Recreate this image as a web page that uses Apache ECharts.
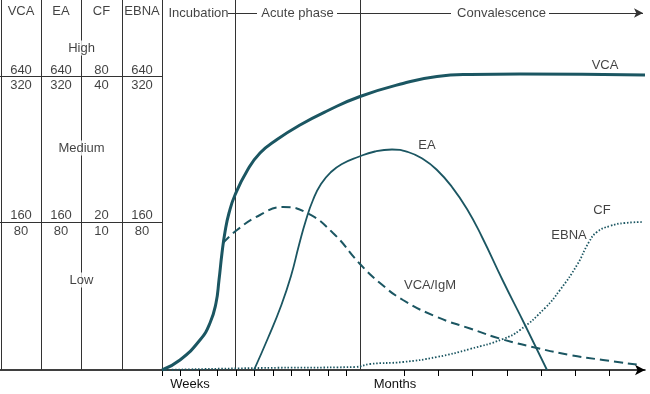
<!DOCTYPE html>
<html>
<head>
<meta charset="utf-8">
<script src="https://cdn.jsdelivr.net/npm/echarts@6/dist/echarts.min.js"></script>
<style>html,body{margin:0;padding:0;background:#fff}#c{width:650px;height:394px}</style>
</head>
<body>
<div id="c"></div>
<script>
// ---- Data (schematic units: x = time position, y = relative antibody level above baseline) ----
const vca = [[162,0],[180,10],[200,30],[210,47],[216,67],[219,90],[222,117],[225,138],[229,157],[235,175],[247,199],[260,217],[277,230.5],[300,245],[327,259],[360,273.5],[403,286.5],[437,293.5],[470,295.5],[520,296],[645,295]];
const vcaIgM = [[223,127],[237,140],[260,155],[283,163],[307,157],[333,137],[360,106],[380,87],[403,70],[437,53],[470,41.5],[503,30.5],[537,22],[570,15],[603,10],[640,5]];
const ea = [[254,0],[268,32],[281,64],[291,94],[299,125],[306,150],[313,170],[321,186],[331,198],[342,206],[358,213],[375,218.5],[392,220.5],[408,218],[423,211],[437,200],[452,183],[467,161],[482,133],[503,89],[525,45],[547,0]];
const ebnaCf = [[162,0],[260,2],[355,3],[370,6],[403,8],[437,13],[470,21],[503,31],[520,40],[545,62],[560,80],[577,105],[589,128],[597,138],[610,144],[625,147],[643,148]];

const curveLabels = ['VCA','EA','VCA/IgM','EBNA','CF'];
const tableHeaders = ['VCA','EA','CF','EBNA'];
const row640 = ['640','640','80','640'];
const row320 = ['320','320','40','320'];
const row160 = ['160','160','20','160'];
const row80  = ['80','80','10','80'];
const levelNames = ['High','Medium','Low'];
const phaseNames = ['Incubation','Acute phase','Convalescence'];
const weekTicks = [162,180.5,199,217.5,236,254.5,273,291,309.5,328,346];
const monthTicks = [404,438.3,472.7,507,541,575.3,609.7];
const scaleNames = ['Weeks','Months'];

// ---- Layout (positions in the same schematic units) ----
const curveLabelPos = [[605,305],[427,225],[430,85],[569,135],[602,160]];
const colEdges = [1,41,81,122,162];
const phaseLines = [235,360];
const headerLevel = 359, l640 = 300, l320 = 285, l160 = 155, l80 = 139;
const levelNamePos = [[81.5,322],[81.5,222],[81.5,90]];
const phaseLabelPos = [[198.5,357],[297.5,357],[501.5,357]];
const topLineSegs = [[228,257],[337,451],[549,643]];
const topLineLevel = 357;
const rowLines = [294,148];
const scaleLabelPos = [190,395];

const teal = '#1b5662';
const ink = '#111';
const font = 'Liberation Sans, Arial, Helvetica, sans-serif';

const colCenters = colEdges.slice(0,-1).map((e,i)=>(e+colEdges[i+1])/2);
const textItems = [];
function addText(x,y,t,bg){ textItems.push({value:[x,y], name:t, label: bg?{backgroundColor:'#fff',padding:[1,2]}:undefined}); }
tableHeaders.forEach((t,i)=>addText(colCenters[i],headerLevel,t));
row640.forEach((t,i)=>addText(colCenters[i],l640,t));
row320.forEach((t,i)=>addText(colCenters[i],l320,t));
row160.forEach((t,i)=>addText(colCenters[i],l160,t));
row80.forEach((t,i)=>addText(colCenters[i],l80,t));
levelNames.forEach((t,i)=>addText(levelNamePos[i][0],levelNamePos[i][1],t,true));
phaseNames.forEach((t,i)=>addText(phaseLabelPos[i][0],phaseLabelPos[i][1],t));
curveLabels.forEach((t,i)=>addText(curveLabelPos[i][0],curveLabelPos[i][1],t));

const frameLine = {color:'#333', width:1, type:'solid'};
const ml = [];
colEdges.concat(phaseLines).forEach(x=>ml.push({xAxis:x}));
rowLines.forEach(y=>ml.push([{coord:[0,y]},{coord:[colEdges[colEdges.length-1],y]}]));
topLineSegs.forEach((s,i)=>{
  const last = i===topLineSegs.length-1;
  ml.push([{coord:[s[0],topLineLevel],symbol:'none'},{coord:[s[1],topLineLevel],symbol:last?'arrow':'none',symbolSize:[7,9]}]);
});
// axis break marks
ml.push([{coord:[357,-6]},{coord:[364,6]}]);
ml.push([{coord:[363,-6]},{coord:[370,6]}]);

const chart = echarts.init(document.getElementById('c'), null, {renderer:'canvas'});
chart.setOption({
  animation:false,
  backgroundColor:'#fff',
  grid:{left:0, top:0, width:645, height:370},
  xAxis:{type:'value', min:0, max:645,
    splitLine:{show:false},
    axisLine:{show:true, onZero:false, symbol:['none','arrow'], symbolSize:[8,10], lineStyle:{color:'#000', width:1.5}},
    axisTick:{show:true, customValues:weekTicks.concat(monthTicks), length:6, inside:false, lineStyle:{color:'#000', width:1}},
    axisLabel:{show:true, customValues:scaleLabelPos, margin:8, color:ink, fontSize:13, fontFamily:font,
      formatter:v=>scaleNames[scaleLabelPos.indexOf(v)] || ''}
  },
  yAxis:{type:'value', min:0, max:370, show:false},
  series:[
    {type:'scatter', data:textItems, symbolSize:1, itemStyle:{color:'rgba(0,0,0,0)'}, silent:true, z:10,
      label:{show:true, position:'inside', formatter:'{b}', color:ink, fontSize:13, fontFamily:font},
      markLine:{silent:true, symbol:['none','none'], label:{show:false}, lineStyle:frameLine, data:ml, z:1}
    },
    {name:'VCA', type:'line', data:vca, smooth:0.5, showSymbol:false, clip:false, lineStyle:{color:teal, width:3}, z:5},
    {name:'VCA/IgM', type:'line', data:vcaIgM, smooth:0.5, showSymbol:false, clip:false, lineStyle:{color:teal, width:2, type:[9,5]}, z:4},
    {name:'EA', type:'line', data:ea, smooth:0.5, showSymbol:false, clip:false, lineStyle:{color:teal, width:1.8}, z:4},
    {name:'EBNA/CF', type:'line', data:ebnaCf, smooth:0.5, showSymbol:false, clip:false, lineStyle:{color:teal, width:1.8, type:[1.5,1.8]}, z:4}
  ]
});
</script>
</body>
</html>
